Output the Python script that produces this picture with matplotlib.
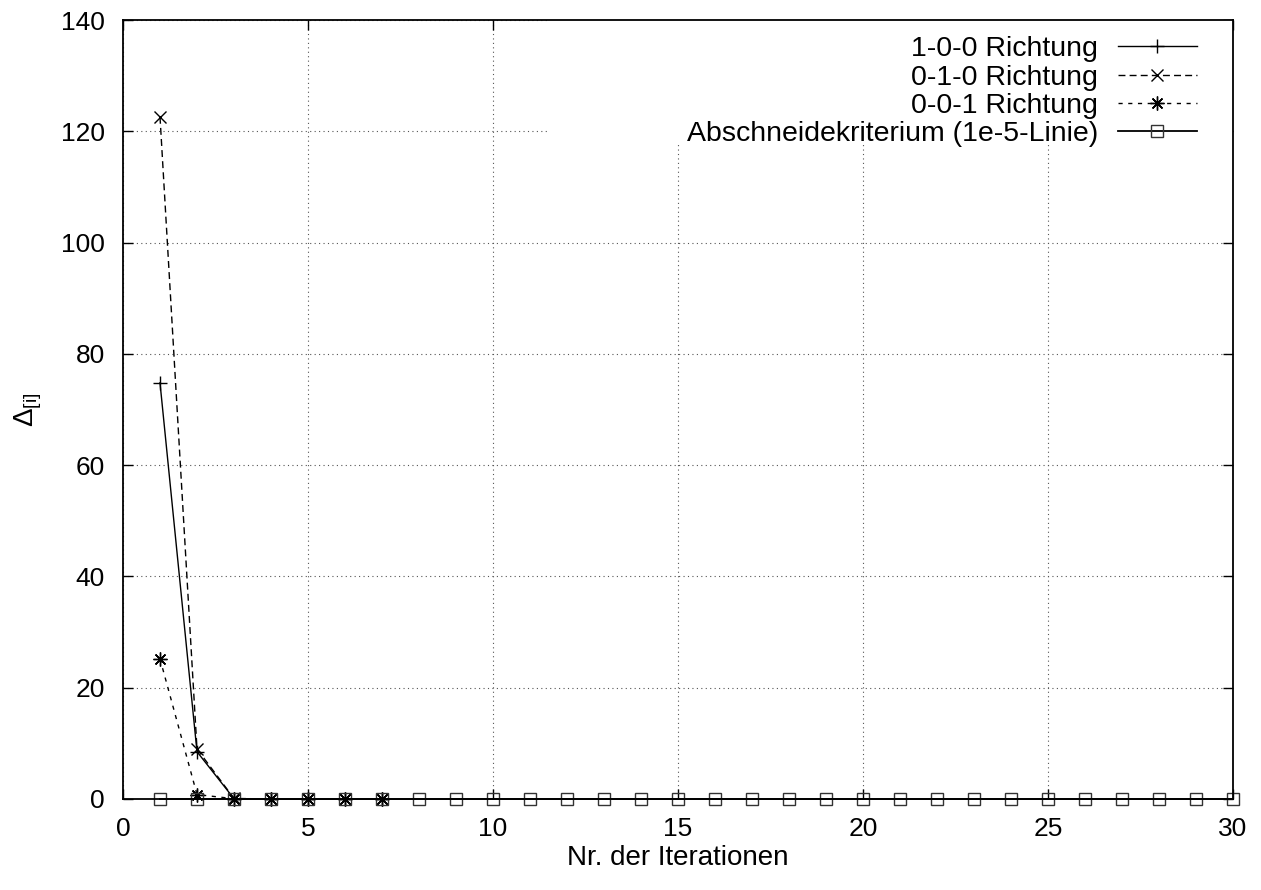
import matplotlib.pyplot as plt
from matplotlib.patches import Rectangle

plt.rcParams['font.family'] = ['Liberation Sans', 'DejaVu Sans']
plt.rcParams['mathtext.fontset'] = 'custom'
plt.rcParams['mathtext.rm'] = 'Liberation Sans'
plt.rcParams['mathtext.it'] = 'Liberation Sans'

# iterations and deltas per direction
iter_dir = [1, 2, 3, 4, 5, 6, 7]
delta_100 = [74.8, 8.5, 0.05, 0.001, 0.0, 0.0, 0.0]
delta_010 = [122.6, 9.0, 0.1, 0.002, 0.0, 0.0, 0.0]
delta_001 = [25.2, 0.8, 0.05, 0.001, 0.0, 0.0, 0.0]
iter_cut = list(range(1, 31))
cut_vals = [1e-5] * 30

fs = 19

fig = plt.figure(figsize=(12.61, 8.90), dpi=100)
ax = fig.add_axes([123 / 1261, 1 - 799 / 890, (1233 - 123) / 1261, (799 - 20) / 890])
ax.set_axisbelow(True)

ax.plot(iter_dir, delta_100, color='black', lw=1, ls='-', marker='+', ms=10,
        mew=1, clip_on=False, label='1-0-0 Richtung')
ax.plot(iter_dir, delta_010, color='black', lw=1, ls=(0, (5, 3)), marker='x', ms=9,
        mew=1, clip_on=False, label='0-1-0 Richtung')
ax.plot(iter_dir, delta_001, color='black', lw=1, ls=(0, (3, 4)), marker=(8, 2, 0), ms=10,
        mew=1, clip_on=False, label='0-0-1 Richtung')
ax.plot(iter_cut, cut_vals, color='black', lw=1.3, ls='-', marker='s', ms=8,
        mfc='none', mec='#333333', mew=1, clip_on=False,
        label='Abschneidekriterium (1e-5-Linie)')

ax.set_xlim(0, 30)
ax.set_ylim(0, 140)
ax.set_xticks(range(0, 31, 5))
ax.set_yticks(range(0, 141, 20))
ax.grid(True, color='#555555', ls=(0, (1, 3)), lw=0.8)
ax.tick_params(direction='in', top=True, right=True, length=7, width=1,
               labelsize=fs, pad=13)
for s in ax.spines.values():
    s.set_linewidth(1.3)

# white area of the key (hides the grid like gnuplot does)
ax.add_patch(Rectangle((0.385, 0.8395), 0.615, 0.1605, transform=ax.transAxes,
                       facecolor='white', edgecolor='none', zorder=1))

ax.set_xlabel('Nr. der Iterationen', fontsize=20, labelpad=3)
ax.set_ylabel(r'$\Delta_{[i]}$', fontsize=fs + 1, rotation=90, labelpad=12)

leg = ax.legend(loc='upper right', bbox_to_anchor=(0.975, 0.99), markerfirst=False,
                frameon=False, fontsize=20.5, handlelength=2.77, handletextpad=0.7,
                labelspacing=0.08, borderaxespad=0, borderpad=0.3)
leg._legend_box.align = 'right'

fig.savefig('out.png', dpi=100)
